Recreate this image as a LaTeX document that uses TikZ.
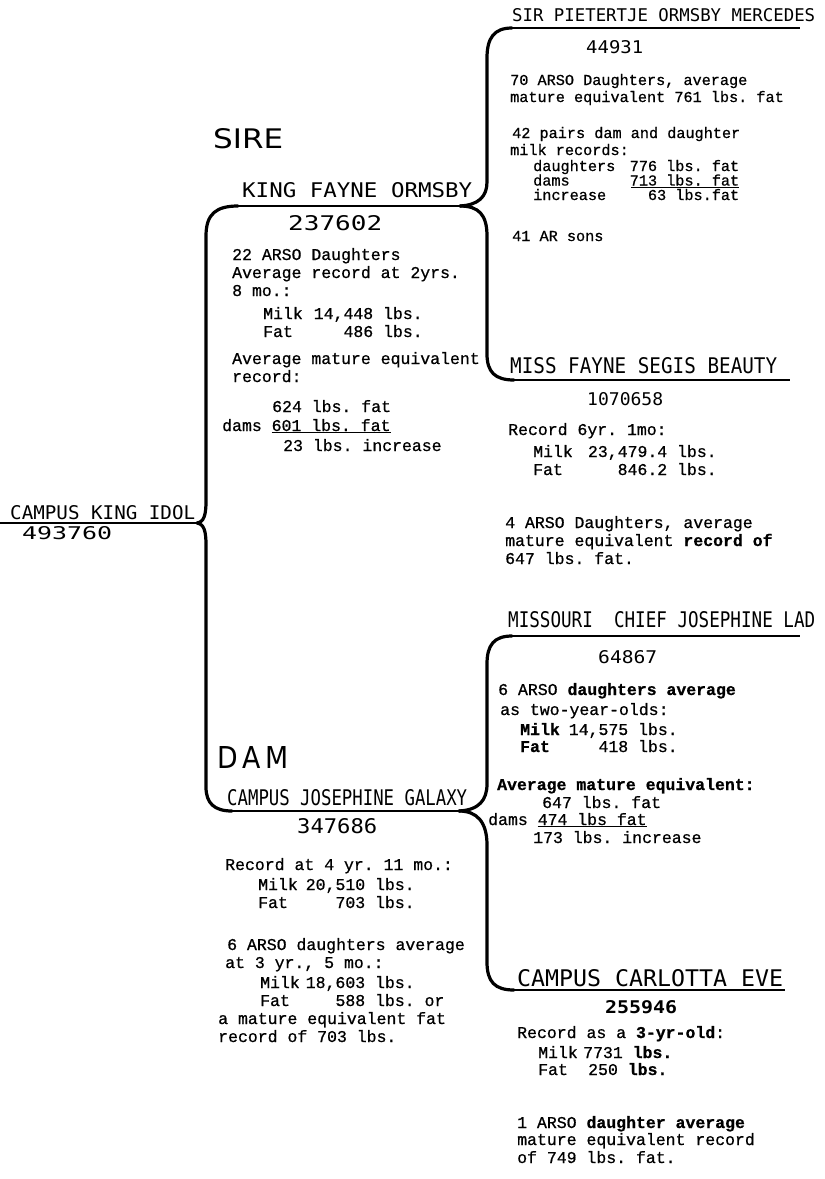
\documentclass[tikz,border=0pt]{standalone}
\usepackage{fontspec}
\usepackage{graphicx}
\setmonofont[FakeBold=0.7]{Liberation Mono}
\newfontfamily\namefont{DejaVu Sans Mono}
\newfontfamily\headfont{DejaVu Sans}
\usetikzlibrary{positioning,calc}
\tikzset{
  brace/.style   = {line width=3.2pt, line cap=round},
  uline/.style   = {line width=1.7pt},
  namelbl/.style = {inner sep=0pt, anchor=base west},
  body/.style    = {inner sep=0pt, anchor=base west,
                    font=\ttfamily\fontsize{16.5}{18}\selectfont},
  smallbody/.style = {body, font=\ttfamily\fontsize{15.2}{17}\selectfont},
}
% name or number, stretched to a given width and cap height
\newcommand{\nm}[3]{\resizebox{#1pt}{#2pt}{\namefont #3}}
% block of lines, baseline on the first line
\newcommand{\blk}[1]{\begin{tabular}[t]{@{}l@{}}#1\end{tabular}}

\begin{document}
\begin{tikzpicture}[x=1pt, y=-1pt]
  \fill[white] (0,0) rectangle (825,1179);
  \useasboundingbox (0,0) rectangle (825,1179);

  % root
  \node[namelbl] (rootname) at (10,519)  {\nm{185}{14}{CAMPUS KING IDOL}};
  \node[namelbl] (rootnum)  at (22,539)  {\nm{90}{13}{493760}};

  % sire
  \node[namelbl] (sirehead) at (213,148) {\resizebox{70pt}{20pt}{\headfont SIRE}};
  \node[namelbl] (kfo)      at (242,197) {\nm{230}{15}{KING FAYNE ORMSBY}};
  \node[namelbl] (kfonum)   at (288,230) {\nm{94}{15}{237602}};
  \node[body] (kfotxt) at (222,260) {\blk{%
    \hspace*{10pt}22 ARSO Daughters\\
    \hspace*{10pt}Average record at 2yrs.\\
    \hspace*{10pt}8 mo.:\\[5pt]
    \hspace*{41pt}\makebox[52pt][l]{Milk}\makebox[58pt][r]{14,448} lbs.\\
    \hspace*{41pt}\makebox[52pt][l]{Fat}\makebox[58pt][r]{486} lbs.\\[9pt]
    \hspace*{10pt}Average mature equivalent\\
    \hspace*{10pt}record:\\[12pt]
    \hspace*{50pt}624 lbs. fat\\[1pt]
    dams \underline{601 lbs. fat}\\[2pt]
    \hspace*{61pt}23 lbs. increase}};

  % sire's sire
  \node[namelbl] (spom)    at (512,21.5) {\nm{303}{13}{SIR PIETERTJE ORMSBY MERCEDES}};
  \node[namelbl] (spomnum) at (586,53)   {\nm{57}{13}{44931}};
  \node[smallbody] (spomtxt) at (510,85) {\blk{%
    70 ARSO Daughters, average\\
    mature equivalent 761 lbs. fat\\[19pt]
    \hspace*{2pt}42 pairs dam and daughter\\
    milk records:\\[-1pt]
    \hspace*{23pt}\makebox[98pt][l]{daughters}\makebox[108pt][r]{776 lbs. fat}\\[-2.5pt]
    \hspace*{23pt}\makebox[98pt][l]{dams}\underline{\makebox[108pt][r]{713 lbs. fat}}\\[-2.5pt]
    \hspace*{23pt}\makebox[98pt][l]{increase}\makebox[108pt][r]{63 lbs.fat}\\[24pt]
    \hspace*{2pt}41 AR sons}};

  % sire's dam
  \node[namelbl] (mfsb)    at (510,373) {\nm{267}{16}{MISS FAYNE SEGIS BEAUTY}};
  \node[namelbl] (mfsbnum) at (587,405) {\nm{76}{13}{1070658}};
  \node[body] (mfsbtxt) at (505,435) {\blk{%
    \hspace*{3pt}Record 6yr. 1mo:\\[4pt]
    \hspace*{28pt}\makebox[47pt][l]{Milk}\makebox[87pt][r]{23,479.4} lbs.\\
    \hspace*{28pt}\makebox[47pt][l]{Fat}\makebox[87pt][r]{846.2} lbs.\\[35pt]
    4 ARSO Daughters, average\\
    mature equivalent \textbf{record of}\\
    647 lbs. fat.}};

  % dam
  \node[namelbl] (damhead) at (217,768) {\resizebox{71pt}{22pt}{\headfont D\,A\,M}};
  \node[namelbl] (cjg)     at (227,805) {\nm{240}{16}{CAMPUS JOSEPHINE GALAXY}};
  \node[namelbl] (cjgnum)  at (297,833) {\nm{80}{15}{347686}};
  \node[body] (cjgtxt) at (218,870) {\blk{%
    \hspace*{7pt}Record at 4 yr. 11 mo.:\\[2pt]
    \hspace*{40pt}\makebox[42pt][l]{Milk}\makebox[65pt][r]{20,510} lbs.\\
    \hspace*{40pt}\makebox[42pt][l]{Fat}\makebox[65pt][r]{703} lbs.\\[24pt]
    \hspace*{9pt}6 ARSO daughters average\\
    \hspace*{7pt}at 3 yr., 5 mo.:\\[2pt]
    \hspace*{42pt}\makebox[42pt][l]{Milk}\makebox[63pt][r]{18,603} lbs.\\
    \hspace*{42pt}\makebox[42pt][l]{Fat}\makebox[63pt][r]{588} lbs. or\\
    a mature equivalent fat\\
    record of 703 lbs.}};

  % dam's sire
  \node[namelbl] (mcjl)    at (508,627) {\nm{307}{16}{MISSOURI\ \ CHIEF JOSEPHINE LAD}};
  \node[namelbl] (mcjlnum) at (598,663) {\nm{59}{13}{64867}};
  \node[body] (mcjltxt) at (482,695) {\blk{%
    \hspace*{16pt}6 ARSO \textbf{daughters average}\\[2pt]
    \hspace*{18pt}as two-year-olds:\\[2pt]
    \hspace*{38pt}\makebox[48pt][l]{\textbf{Milk}}\makebox[60pt][r]{14,575} lbs.\\[-1pt]
    \hspace*{38pt}\makebox[48pt][l]{\textbf{Fat}}\makebox[60pt][r]{418} lbs.\\[20pt]
    \hspace*{15pt}\textbf{Average mature equivalent:}\\
    \hspace*{60pt}647 lbs. fat\\[-1pt]
    \hspace*{6pt}dams \underline{474 lbs fat}\\
    \hspace*{51pt}173 lbs. increase}};

  % dam's dam
  \node[namelbl] (cce)    at (517,986)  {\nm{266}{17}{CAMPUS CARLOTTA EVE}};
  \node[namelbl] (ccenum) at (605,1013) {\nm{72}{13}{\bfseries 255946}};
  \node[body] (ccetxt) at (517,1038) {\blk{%
    Record as a \textbf{3-yr-old}:\\[2pt]
    \hspace*{21pt}\makebox[45pt][l]{Milk}7731 \textbf{lbs.}\\[-1pt]
    \hspace*{21pt}\makebox[45pt][l]{Fat}\hspace*{5pt}250 \textbf{lbs.}\\[35pt]
    1 ARSO \textbf{daughter average}\\[-1pt]
    mature equivalent record\\
    of 749 lbs. fat.}};

  % underline ends
  \coordinate (rootL) at (0,523);   \coordinate (rootC) at (197,523);
  \coordinate (kfoL)  at (238,206); \coordinate (kfoC)  at (460,206);
  \coordinate (cjgL)  at (232,811); \coordinate (cjgC)  at (459,811);
  \coordinate (spomL) at (512,28);  \coordinate (spomR) at (800,28);
  \coordinate (mfsbL) at (514,380); \coordinate (mfsbR) at (790,380);
  \coordinate (mcjlL) at (512,636); \coordinate (mcjlR) at (800,636);
  \coordinate (cceL)  at (514,990); \coordinate (cceR)  at (785,990);

  \draw[uline] (rootL) -- (rootC);
  \draw[uline] (kfoL)  -- (kfoC);
  \draw[uline] (cjgL)  -- (cjgC);
  \draw[uline] (spomL) -- (spomR);
  \draw[uline] (mfsbL) -- (mfsbR);
  \draw[uline] (mcjlL) -- (mcjlR);
  \draw[uline] (cceL)  -- (cceR);

  % braces
  \draw[brace] (kfoL) .. controls (216,206) and (206,214) .. (206,236)
    -- (206,501) .. controls (206,515) and (204,522) .. (rootC);
  \draw[brace] (rootC) .. controls (204,524) and (206,531) .. (206,545)
    -- (206,787) .. controls (206,803) and (214,811) .. (cjgL);
  \draw[brace] (spomL) .. controls (494,28) and (487,38) .. (487,58)
    -- (487,182) .. controls (487,197) and (478,205) .. (kfoC);
  \draw[brace] (kfoC) .. controls (479,206) and (487,215) .. (487,236)
    -- (487,354) .. controls (487,372) and (495,380) .. (mfsbL);
  \draw[brace] (mcjlL) .. controls (494,636) and (487,645) .. (487,664)
    -- (487,784) .. controls (487,800) and (479,810) .. (cjgC);
  \draw[brace] (cjgC) .. controls (477,811) and (487,822) .. (487,845)
    -- (487,962) .. controls (487,982) and (495,990) .. (cceL);
\end{tikzpicture}
\end{document}
